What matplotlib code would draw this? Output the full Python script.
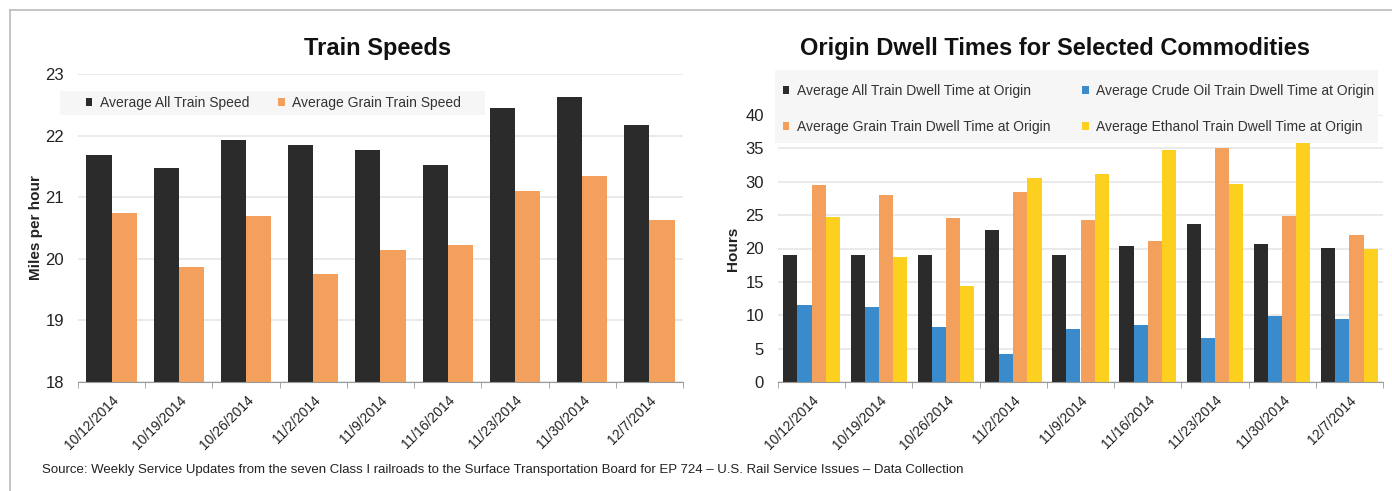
import numpy as np
import matplotlib.pyplot as plt
from matplotlib.lines import Line2D
from matplotlib.patches import Rectangle

plt.rcParams['font.family'] = ['Liberation Sans', 'DejaVu Sans']

weeks = ["10/12/2014", "10/19/2014", "10/26/2014", "11/2/2014", "11/9/2014",
         "11/16/2014", "11/23/2014", "11/30/2014", "12/7/2014"]

# train speeds (mph)
all_speed = [21.68, 21.48, 21.93, 21.85, 21.77, 21.52, 22.45, 22.62, 22.18]
grain_speed = [20.75, 19.87, 20.70, 19.75, 20.14, 20.22, 21.10, 21.35, 20.63]

# dwell at origin (hours)
all_dwell = [19.0, 19.1, 19.1, 22.7, 19.1, 20.4, 23.7, 20.7, 20.1]
crude_dwell = [11.5, 11.3, 8.3, 4.2, 8.0, 8.5, 6.6, 9.9, 9.5]
grain_dwell = [29.5, 28.0, 24.5, 28.4, 24.2, 21.1, 35.0, 24.9, 22.0]
ethanol_dwell = [24.7, 18.8, 14.4, 30.6, 31.1, 34.8, 29.7, 35.8, 19.9]

BLACK = "#2b2b2b"
ORANGE = "#f2a05c"
BLUE = "#3a8bcb"
YELLOW = "#fdd020"
GRID = "#e6e6e6"
TXT = "#222222"
LEGBG = "#f5f6f5"

W, H = 1392, 491
fig = plt.figure(figsize=(W / 100, H / 100), dpi=100)


def fx(px):
    return px / W


def fy(py):
    # pixel rows counted from the top
    return 1 - py / H


# thin frame along the top and left
fig.add_artist(Line2D([fx(10), 1], [fy(10), fy(10)], color="#bbbbbb", lw=1.2))
fig.add_artist(Line2D([fx(10), fx(10)], [0, fy(10)], color="#bbbbbb", lw=1.2))


def style_axes(ax):
    x = np.arange(len(weeks))
    ax.patch.set_visible(False)
    for s in ["top", "right", "left"]:
        ax.spines[s].set_visible(False)
    ax.spines["bottom"].set_color("#999999")
    ax.grid(axis="y", color=GRID, lw=1.2)
    ax.set_axisbelow(True)
    ax.set_xlim(-0.5, len(weeks) - 0.5)
    ax.set_xticks(x)
    ax.set_xticklabels(weeks, rotation=45, ha="right", rotation_mode="anchor",
                       fontsize=10, color=TXT)
    ax.set_xticks(np.arange(len(weeks) + 1) - 0.5, minor=True)
    ax.tick_params(axis="x", which="major", length=0, pad=8)
    ax.tick_params(axis="x", which="minor", length=4, color="#999999")
    ax.tick_params(axis="y", length=0, labelsize=12, labelcolor=TXT, pad=10)


def legend_box(x0, y0, x1, y1):
    fig.add_artist(Rectangle((fx(x0), fy(y1)), fx(x1) - fx(x0), fy(y0) - fy(y1),
                             transform=fig.transFigure, facecolor=LEGBG,
                             edgecolor="none", zorder=1))


# left: train speeds
ax1 = fig.add_axes([fx(78), fy(382), fx(683) - fx(78), fy(74) - fy(382)])
x = np.arange(len(weeks))
w = 0.375
ax1.bar(x - w/2, all_speed, w, color=BLACK, label="Average All Train Speed")
ax1.bar(x + w/2, grain_speed, w, color=ORANGE, label="Average Grain Train Speed")
ax1.set_ylim(18, 23)
ax1.set_yticks([18, 19, 20, 21, 22, 23])
style_axes(ax1)
ax1.set_ylabel("Miles per hour", fontsize=11, fontweight="bold", color=TXT, labelpad=2)
fig.text(fx(378), fy(48), "Train Speeds", fontsize=17, fontweight="bold",
         color="#111111", ha="center", va="center")

legend_box(60, 91, 485, 115)
leg1 = fig.legend(*ax1.get_legend_handles_labels(), loc="center left",
                  bbox_to_anchor=(fx(86), fy(103)), ncol=2, frameon=False,
                  fontsize=10, handlelength=0.45, handleheight=0.45, columnspacing=2.1,
                  borderpad=0, handletextpad=0.55, borderaxespad=0)
for t in leg1.get_texts():
    t.set_color("#333333")

# right: dwell times
ax2 = fig.add_axes([fx(778), fy(382), fx(1383) - fx(778), fy(115) - fy(382)])
w2 = 0.21
series = [(all_dwell, BLACK, "Average All Train Dwell Time at Origin"),
          (crude_dwell, BLUE, "Average Crude Oil Train Dwell Time at Origin"),
          (grain_dwell, ORANGE, "Average Grain Train Dwell Time at Origin"),
          (ethanol_dwell, YELLOW, "Average Ethanol Train Dwell Time at Origin")]
for i, (vals, col, lab) in enumerate(series):
    ax2.bar(x + (i - 1.5) * w2, vals, w2, color=col, label=lab)
ax2.set_ylim(0, 40)
ax2.set_yticks(range(0, 41, 5))
style_axes(ax2)
ax2.set_ylabel("Hours", fontsize=11, fontweight="bold", color=TXT, labelpad=4)
fig.text(fx(1055), fy(48), "Origin Dwell Times for Selected Commodities", fontsize=17,
         fontweight="bold", color="#111111", ha="center", va="center")

legend_box(775, 70, 1378, 143)
h, l = ax2.get_legend_handles_labels()
order = [0, 2, 1, 3]
leg2 = fig.legend([h[i] for i in order], [l[i] for i in order], loc="center left",
                  bbox_to_anchor=(fx(783), fy(109)), ncol=2, frameon=False, fontsize=10,
                  handlelength=0.45, handleheight=0.45, columnspacing=2.3,
                  labelspacing=1.6, borderpad=0, handletextpad=0.55, borderaxespad=0)
for t in leg2.get_texts():
    t.set_color("#333333")

fig.text(fx(42), fy(470),
         "Source: Weekly Service Updates from the seven Class I railroads to the Surface "
         "Transportation Board for EP 724 \u2013 U.S. Rail Service Issues \u2013 Data Collection",
         fontsize=9.5, color="#222222", va="center", ha="left")

fig.savefig("out.png", dpi=100, facecolor="white")
